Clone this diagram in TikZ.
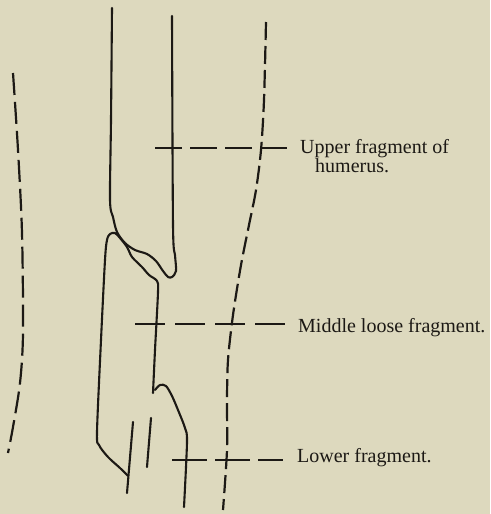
\documentclass[tikz,border=0pt]{standalone}
\usepackage{fontspec}
\setmainfont{Liberation Serif}
\definecolor{plateInk}{HTML}{1C1915}
\definecolor{plateTone}{HTML}{DDD9BE}
\tikzset{
  boneLine/.style={draw=plateInk, line width=2.1pt, line join=round, line cap=round},
  armLine/.style={draw=plateInk, line width=2.2pt, dash pattern=on 18pt off 6pt},
  leaderLine/.style={draw=plateInk, line width=1.4pt},
  labelText/.style={font=\fontsize{20}{15}\selectfont, text=plateInk, inner sep=0pt, anchor=base west}
}

\begin{document}
\begin{tikzpicture}[x=1pt,y=-1pt]
  \fill[plateTone] (0,0) rectangle (490,514);
  \useasboundingbox (0,0) rectangle (490,514);
  % soft outline of the arm
  \draw[armLine, dash pattern=on 22pt off 7pt] plot[smooth] coordinates {(13,73) (18,150) (22,233) (23,333) (20,383) (13,427) (8,453)};
  \draw[armLine] plot[smooth] coordinates {(266,22) (264,100) (261,150) (256,190) (249,225) (241,265) (233,315) (228,360) (227,400) (227,450) (223,510)};
  % upper fragment
  \draw[boneLine] plot[smooth, tension=0.5] coordinates {(112,8) (111,120) (110,200) (113,217) (117,232) (125,243) (135,250) (147,254) (156,261) (163,271) (168,277) (172,277) (176,271) (175,255) (173,225) (172,16)};
  % middle loose fragment
  \draw[boneLine] plot[smooth, tension=0.5] coordinates {(128,476) (120,468) (108,457) (99,445) (97,432) (101,340) (105,260) (107,240) (110,234) (115,233) (120,238) (127,247) (132,257) (142,267) (149,275) (157,281) (158,292) (155,350) (153,393)};
  % lower fragment
  \draw[boneLine] plot[smooth, tension=0.5] coordinates {(155,390) (160,385) (166,386) (172,396) (178,410) (185,428) (187,442) (184,507)};
  \draw[boneLine] (133,422) -- (127,493);
  \draw[boneLine] (151,418) -- (147,467);
  % labels
  \node[labelText, anchor=north west, align=left] (upperLbl) at (300,139) {Upper fragment of\\\hspace*{15pt}humerus.};
  \node[labelText] (middleLbl) at (298,332) {Middle loose fragment.};
  \node[labelText] (lowerLbl) at (297,462) {Lower fragment.};
  \coordinate (upperTip) at (155,148);
  \coordinate (middleTip) at (135,324);
  \coordinate (lowerTip) at (172,460);
  \foreach \tip/\lbl/\on/\off/\gap in {upperTip/upperLbl/27/8/13, middleTip/middleLbl/30/10/10, lowerTip/lowerLbl/35/8/14} {
    \draw[leaderLine, dash pattern=on \on pt off \off pt, shorten >=\gap pt] (\tip) -- (\tip -| \lbl.west);
  }
\end{tikzpicture}
\end{document}
